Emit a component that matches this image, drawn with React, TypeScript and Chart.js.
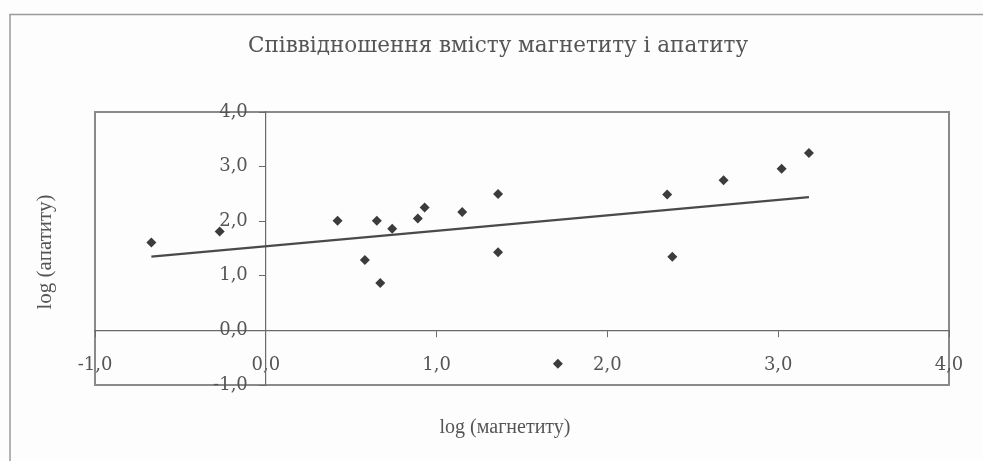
import React, { useEffect, useRef } from "react";
import { Chart, registerables, LinearScale } from "chart.js";

// log(magnetite) values (x)
const MAGNETITE_LOG = [-0.67, -0.27, 0.42, 0.58, 0.65, 0.67, 0.74, 0.89, 0.93, 1.15, 1.36, 1.36, 1.71, 2.35, 2.38, 2.68, 3.02, 3.18];
// log(apatite) values (y)
const APATITE_LOG = [1.61, 1.81, 2.01, 1.29, 2.01, 0.87, 1.86, 2.05, 2.25, 2.17, 2.5, 1.43, -0.61, 2.49, 1.35, 2.75, 2.96, 3.25];
// linear trend line end points
const TREND_X = [-0.67, 3.18];
const TREND_Y = [1.35, 2.44];

const AXIS_MIN = -1;
const AXIS_MAX = 4;

const TITLE = "Співвідношення вмісту магнетиту і апатиту";
const X_TITLE = "log (магнетиту)";
const Y_TITLE = "log (апатиту)";

const SERIF = "'Liberation Serif', 'DejaVu Serif', serif";
const WIDE_SERIF = "'DejaVu Serif', 'Liberation Serif', serif";
const TEXT = "#555555";
const LINE = "#6a6a6a";
const Y_LABEL_GAP = 18;

const fmt = (v: number | string) => Number(v).toFixed(1).replace(".", ",");

// linear scale whose labels keep a gap from an axis placed inside the chart area
class CrossLinearScale extends LinearScale {
  static id = "crossLinear";
  _computeLabelItems(chartArea: any) {
    const items = (super._computeLabelItems as any)(chartArea);
    if ((this as any).axis === "y") {
      items.forEach((it: any) => {
        const t = it.options.translation;
        it.options.translation = [t[0] - Y_LABEL_GAP, t[1]];
      });
    }
    return items;
  }
}

Chart.register(...registerables, CrossLinearScale as any);

const framePlugin = {
  id: "frame",
  beforeDraw(chart: any) {
    const { ctx, chartArea, width, height } = chart;
    ctx.save();
    ctx.fillStyle = "#fdfdfd";
    ctx.fillRect(0, 0, width, height);
    // outer frame (left and top)
    ctx.strokeStyle = "#9a9a9a";
    ctx.lineWidth = 1.5;
    ctx.beginPath();
    ctx.moveTo(10, height);
    ctx.lineTo(10, 14.5);
    ctx.lineTo(width, 14.5);
    ctx.stroke();
    // plot area border
    ctx.strokeStyle = "#8a8a8a";
    ctx.lineWidth = 2;
    ctx.strokeRect(chartArea.left, chartArea.top, chartArea.right - chartArea.left, chartArea.bottom - chartArea.top);
    ctx.restore();
  },
  afterDraw(chart: any) {
    const { ctx, chartArea } = chart;
    ctx.save();
    ctx.fillStyle = TEXT;
    ctx.textAlign = "center";
    ctx.textBaseline = "middle";
    ctx.font = `21.5px ${WIDE_SERIF}`;
    ctx.fillText(TITLE, 498, 46);
    ctx.font = `20px ${SERIF}`;
    ctx.fillText(X_TITLE, 505, chartArea.bottom + 43);
    ctx.font = `21px ${SERIF}`;
    ctx.translate(45, 252);
    ctx.rotate(-Math.PI / 2);
    ctx.fillText(Y_TITLE, 0, 0);
    ctx.restore();
  },
};

export default function App() {
  const ref = useRef<HTMLCanvasElement | null>(null);

  useEffect(() => {
    if (!ref.current) return;
    const points = MAGNETITE_LOG.map((x, i) => ({ x, y: APATITE_LOG[i] }));
    const trend = TREND_X.map((x, i) => ({ x, y: TREND_Y[i] }));
    const chart = new Chart(ref.current, {
      type: "scatter",
      data: {
        datasets: [
          {
            type: "line",
            label: "trend",
            data: trend,
            borderColor: "#4a4a4a",
            borderWidth: 2.3,
            pointRadius: 0,
            fill: false,
          } as any,
          {
            label: "data",
            data: points,
            pointStyle: "rectRot",
            pointRadius: 5,
            backgroundColor: "#3c3c3c",
            borderColor: "#3c3c3c",
            borderWidth: 0,
          },
        ],
      },
      options: {
        animation: false,
        responsive: false,
        layout: { padding: { left: 95, right: 34, top: 112, bottom: 76 } },
        plugins: {
          legend: { display: false },
          tooltip: { enabled: false },
          title: { display: false },
        },
        scales: {
          x: {
            type: "linear",
            min: AXIS_MIN,
            max: AXIS_MAX,
            position: { y: 0 } as any,
            afterFit: (s: any) => {
              s.height = 0;
            },
            ticks: {
              stepSize: 1,
              color: TEXT,
              padding: 18,
              font: { family: WIDE_SERIF, size: 18 },
              callback: (v: any) => fmt(v),
            },
            grid: { display: true, drawOnChartArea: false, tickLength: 6, color: LINE },
            border: { display: true, color: LINE, width: 1.2 },
          },
          y: {
            type: "crossLinear" as any,
            min: AXIS_MIN,
            max: AXIS_MAX,
            position: { x: 0 } as any,
            afterFit: (s: any) => {
              s.width = 0;
            },
            ticks: {
              stepSize: 1,
              color: TEXT,
              font: { family: WIDE_SERIF, size: 18 },
              callback: (v: any) => fmt(v),
            },
            grid: { display: true, drawOnChartArea: false, tickLength: 6, color: LINE },
            border: { display: true, color: LINE, width: 1.2 },
          },
        },
      },
      plugins: [framePlugin],
    });
    return () => chart.destroy();
  }, []);

  return (
    <div style={{ position: "fixed", left: 0, top: 0, width: 983, height: 461 }}>
      <canvas ref={ref} width={983} height={461} style={{ display: "block", width: 983, height: 461 }} />
    </div>
  );
}
